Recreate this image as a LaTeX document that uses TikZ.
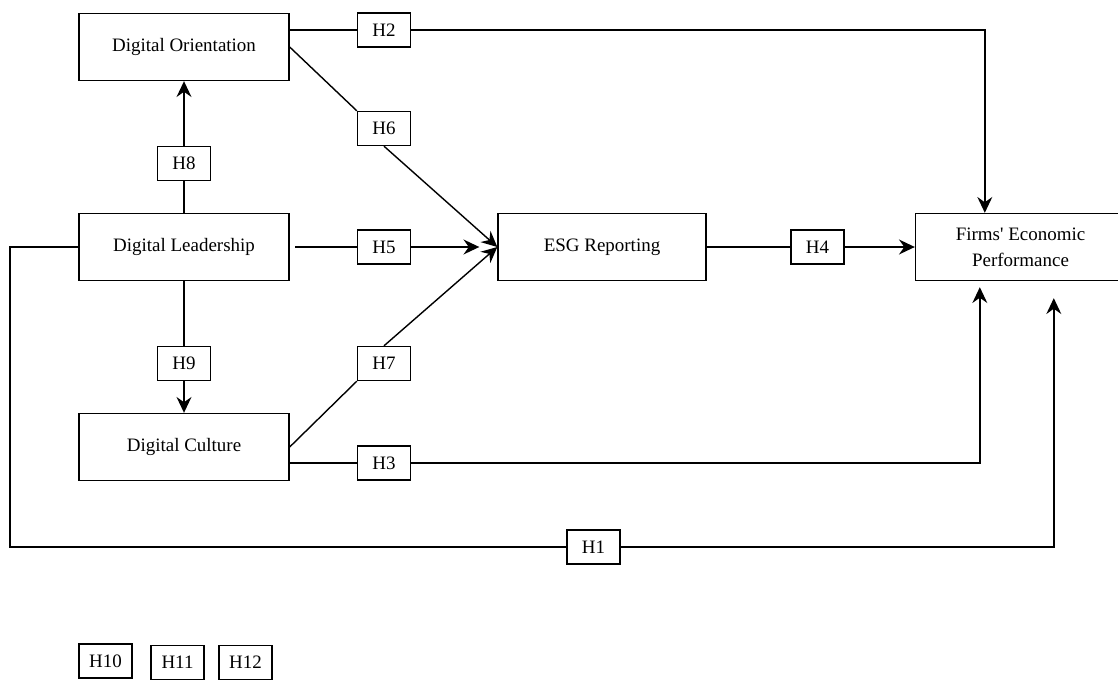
\documentclass[tikz,border=0pt]{standalone}
\usepackage{fontspec}
\setmainfont{Liberation Serif}
\newfontfamily\straightfont{Liberation Serif}
\usepackage{tikz}
\usetikzlibrary{arrows.meta,positioning}

\begin{document}
\begin{tikzpicture}[x=0.02cm,y=-0.02cm,font=\fontsize{10.8}{14.7}\selectfont,line width=0.8pt,>={Stealth[length=9pt,width=8.5pt,inset=3pt]},
  var/.style={draw,line width=0.8pt,minimum width=4.2cm,minimum height=1.34cm,align=center,inner sep=2pt},
  hyp/.style={draw,line width=0.8pt,minimum width=1.06cm,minimum height=0.68cm,inner sep=1pt}]
\useasboundingbox (0,0) rectangle (1118,679);

% ---------- constructs ----------
\node[var] (ori) at (184,47) {Digital Orientation};
\node[var] (lead) at (184,247) {Digital Leadership};
\node[var] (cult) at (184,447) {Digital Culture};
\node[var,minimum width=4.16cm] (esg) at (602,247) {ESG Reporting};
\node[var] (fep) at (1020.5,247) {{\straightfont Firms' Economic}\\Performance};

% ---------- hypotheses ----------
\node[hyp] (h2) at (384,30) {H2};
\node[hyp] (h6) at (384,128.5) {H6};
\node[hyp] (h8) at (184,163.5) {H8};
\node[hyp] (h5) at (384,247) {H5};
\node[hyp] (h4) at (817.5,247) {H4};
\node[hyp] (h9) at (184,363.5) {H9};
\node[hyp] (h7) at (384,363.5) {H7};
\node[hyp] (h3) at (384,463) {H3};
\node[hyp] (h1) at (593.5,547) {H1};

% ---------- paths ----------
\draw (lead.north)--(h8.south);
\draw[->] (h8.north)--(ori.south);
\draw (lead.south)--(h9.north);
\draw[->] (h9.south)--(cult.north);
\draw (ori.east |- h2)--(h2.west);
\draw[->] (h2.east) -| ([xshift=1.4cm]fep.north west);
\draw (ori.east)--(h6.north west);
\draw[->] (h6.south)--(esg.west);
\draw ([xshift=0.11cm]lead.east)--(h5.west);
\draw[->,shorten >=0.36cm] (h5.east)--(esg.west);
\draw (cult.east)--(h7.south west);
\draw[->] (h7.north)--(esg.west);
\draw (esg.east)--(h4.west);
\draw[->] (h4.east)--(fep.west);
\draw (cult.east |- h3)--(h3.west);
\draw[->] (h3.east) -| ([xshift=1.3cm,yshift=-0.12cm]fep.south west);
\coordinate (loop) at (10,547);
\draw (lead.west) -| (loop) -- (h1.west);
\draw[->] (h1.east) -| ([xshift=2.78cm,yshift=-0.34cm]fep.south west);

% ---------- spare labels ----------
\node[hyp] (h10) at (105.5,661) {H10};
\node[hyp] (h11) at (177.5,662.5) {H11};
\node[hyp] (h12) at (245.5,662.5) {H12};
\end{tikzpicture}
\end{document}
